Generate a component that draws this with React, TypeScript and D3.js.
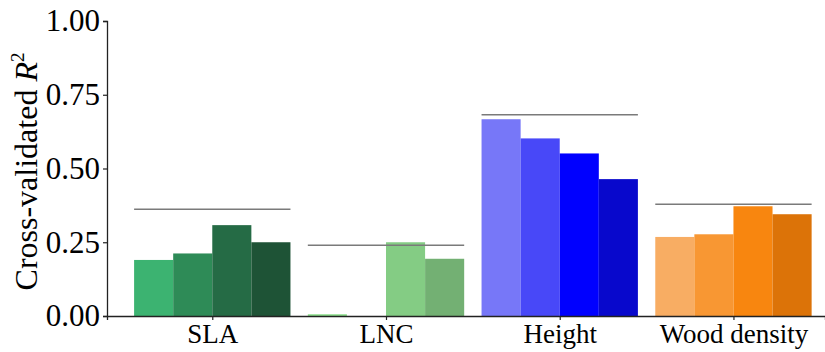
import * as d3 from 'd3';
import { useEffect, useRef } from 'react';

// trait groups along the x axis
const traits = ['SLA', 'LNC', 'Height', 'Wood density'];

// cross-validated R2 for the four models in each trait group
const slaValues = [0.19, 0.212, 0.308, 0.25];
const lncValues = [0.006, 0, 0.25, 0.194];
const heightValues = [0.667, 0.602, 0.551, 0.464];
const woodValues = [0.268, 0.277, 0.372, 0.345];

// grey reference line above each group
const refValues = [0.362, 0.24, 0.682, 0.379];

const slaColors = ['#3cb371', '#2e8b57', '#256b45', '#1e5336'];
const lncColors = ['#8fe08f', '#85cd85', '#84cc84', '#73b073'];
const heightColors = ['#7777f8', '#4848f8', '#0000ff', '#0808cc'];
const woodColors = ['#f8ad63', '#f89733', '#f8860f', '#dc7308'];

const yTicks = [0, 0.25, 0.5, 0.75, 1];

const font = "'Liberation Serif', 'Times New Roman', serif";

export default function App() {
  const width = 825;
  const height = 352;
  const ref = useRef<SVGSVGElement>(null);

  useEffect(() => {
    const svg = d3.select(ref.current);
    svg.selectAll('*').remove();

    const groups = [slaValues, lncValues, heightValues, woodValues];
    const colors = [slaColors, lncColors, heightColors, woodColors];

    const x = d3.scaleLinear().domain([-0.606, 3.527]).range([107, 825]);
    const y = d3.scaleLinear().domain([0, 1]).range([316, 21]);
    const barW = 0.225;

    // bars
    const bars = groups.flatMap((vals, i) =>
      vals.map((v, j) => ({ i, j, v, c: colors[i][j] })),
    );
    svg
      .append('g')
      .selectAll('rect')
      .data(bars.filter((d) => d.v > 0))
      .join('rect')
      .attr('x', (d) => x(d.i + (d.j - 2) * barW))
      .attr('width', (d) => x(barW) - x(0))
      .attr('y', (d) => y(d.v))
      .attr('height', (d) => y(0) - y(d.v))
      .attr('fill', (d) => d.c);

    // reference lines
    svg
      .append('g')
      .selectAll('line')
      .data(refValues)
      .join('line')
      .attr('x1', (_, i) => x(i - 2 * barW))
      .attr('x2', (_, i) => x(i + 2 * barW))
      .attr('y1', (d) => y(d))
      .attr('y2', (d) => y(d))
      .attr('stroke', '#7a7a7a')
      .attr('stroke-width', 1.4);

    // y axis
    const ya = svg
      .append('g')
      .attr('transform', `translate(${x.range()[0]},0)`)
      .call(
        d3
          .axisLeft(y)
          .tickValues(yTicks)
          .tickFormat(d3.format('.2f'))
          .tickSize(4)
          .tickPadding(3),
      );
    ya.attr('font-family', null).attr('font-size', null);
    ya.select('.domain').attr('stroke', '#222').attr('stroke-width', 1.3);
    ya.selectAll('.tick line').attr('stroke', '#222').attr('stroke-width', 1.2);
    ya.selectAll('.tick text')
      .style('font-family', font)
      .style('font-size', '31px')
      .attr('fill', '#000');

    // x axis
    const xa = svg
      .append('g')
      .attr('transform', `translate(0,${y(0)})`)
      .call(
        d3
          .axisBottom(x)
          .tickValues(d3.range(traits.length))
          .tickFormat((d) => traits[+d])
          .tickSizeOuter(0)
          .tickSize(4)
          .tickPadding(4),
      );
    xa.attr('font-family', null).attr('font-size', null);
    xa.select('.domain').attr('stroke', '#222').attr('stroke-width', 1.3);
    xa.selectAll('.tick line').attr('stroke', '#222').attr('stroke-width', 1.2);
    xa.selectAll('.tick text')
      .style('font-family', font)
      .style('font-size', '27px')
      .attr('fill', '#000');

    // y label
    const lab = svg
      .append('text')
      .attr('transform', `translate(37,${(y(0) + y(1)) / 2 + 3}) rotate(-90)`)
      .attr('text-anchor', 'middle')
      .style('font-family', font)
      .style('font-size', '32px')
      .attr('fill', '#000');
    lab.append('tspan').text('Cross-validated ');
    lab.append('tspan').attr('font-style', 'italic').text('R');
    lab.append('tspan').style('font-size', '19px').attr('dy', -13).text('2');
  }, []);

  return (
    <svg
      ref={ref}
      width={width}
      height={height}
      style={{ position: 'absolute', left: 0, top: 0, background: '#fff' }}
    />
  );
}
